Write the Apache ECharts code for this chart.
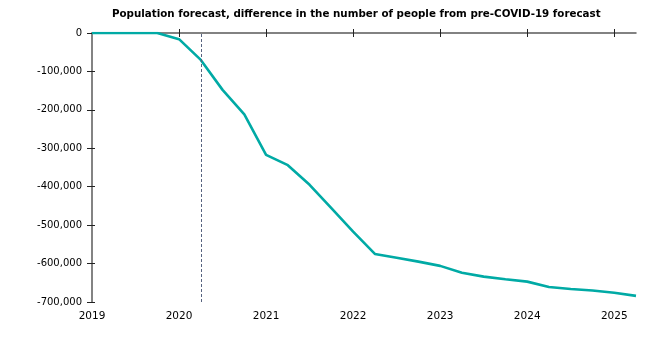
<!DOCTYPE html>
<html><head><meta charset="utf-8">
<script src="https://cdn.jsdelivr.net/npm/echarts@6/dist/echarts.min.js"></script>
<style>html,body{margin:0;padding:0;background:#fff}#c{width:664px;height:338px}</style>
</head><body><div id="c"></div>
<script>
var title = 'Population forecast, difference in the number of people from pre-COVID-19 forecast';
var quarters = [2019.0,2019.25,2019.5,2019.75,2020.0,2020.25,2020.5,2020.75,2021.0,2021.25,2021.5,2021.75,2022.0,2022.25,2022.5,2022.75,2023.0,2023.25,2023.5,2023.75,2024.0,2024.25,2024.5,2024.75,2025.0,2025.25];
var difference = [0,0,0,0,-16000,-70000,-148000,-212000,-317000,-344000,-395000,-456000,-517000,-575000,-585000,-595000,-606000,-624000,-634000,-641000,-647000,-661000,-666000,-670000,-676000,-684000];
var yearTicks = [2019,2020,2021,2022,2023,2024,2025];
var yTicks = [0,-100000,-200000,-300000,-400000,-500000,-600000,-700000];
var forecastStart = 2020.25;

var font = 'DejaVu Sans, Verdana, sans-serif';
var axisColor = '#5a5a5a';
var xMin = yearTicks[0], xMax = quarters[quarters.length-1];
var yMin = yTicks[yTicks.length-1], yMax = yTicks[0];
function fmt(v){ return v === 0 ? '0' : (v<0?'-':'') + Math.abs(v).toString().replace(/\B(?=(\d{3})+(?!\d))/g, ','); }

var chart = echarts.init(document.getElementById('c'), null, {renderer:'canvas'});
var xBase = {type:'value', min:xMin, max:xMax, interval:1, splitLine:{show:false}};
var yBase = {type:'value', min:yMin, max:yMax, interval:100000, position:'left', splitLine:{show:false}};
chart.setOption({
  animation:false,
  title:{text:title, left:112, top:9, padding:0, textStyle:{fontFamily:font, fontSize:10.3, fontWeight:'bold', color:'#000'}},
  grid:{left:92, right:28, top:33, bottom:36},
  xAxis:[
    Object.assign({}, xBase, {position:'top', axisLine:{onZero:false, lineStyle:{color:axisColor, width:1.5}}, axisTick:{inside:false, length:4, customValues:yearTicks.slice(1), lineStyle:{color:'#222'}}, axisLabel:{show:false}}),
    Object.assign({}, xBase, {position:'top', axisLine:{show:false}, axisTick:{inside:true, length:4, customValues:yearTicks.slice(1), lineStyle:{color:'#222'}}, axisLabel:{show:false}}),
    Object.assign({}, xBase, {position:'bottom', axisLine:{show:false}, axisTick:{show:false}, axisLabel:{show:true, margin:9, fontFamily:font, fontSize:10.5, color:'#000', customValues:yearTicks, formatter:function(v){return String(v);}}})
  ],
  yAxis:[
    Object.assign({}, yBase, {axisLine:{show:true, onZero:false, lineStyle:{color:axisColor, width:1.5}}, axisTick:{show:true, inside:false, length:5, lineStyle:{color:'#222'}}, axisLabel:{margin:10, fontFamily:font, fontSize:10, color:'#000', formatter:fmt}}),
    Object.assign({}, yBase, {axisLine:{show:false}, axisTick:{show:true, inside:true, length:3, lineStyle:{color:'#222'}}, axisLabel:{show:false}})
  ],
  series:[{
    type:'line', xAxisIndex:0, yAxisIndex:0,
    data:quarters.map(function(q,i){return [q, difference[i]];}),
    showSymbol:false, symbol:'none',
    lineStyle:{color:'#00aaa5', width:2.6},
    markLine:{silent:true, symbol:'none', label:{show:false},
      lineStyle:{color:'#56637f', width:1, type:[3,2]},
      data:[{xAxis:forecastStart}]}
  }]
});
</script></body></html>
